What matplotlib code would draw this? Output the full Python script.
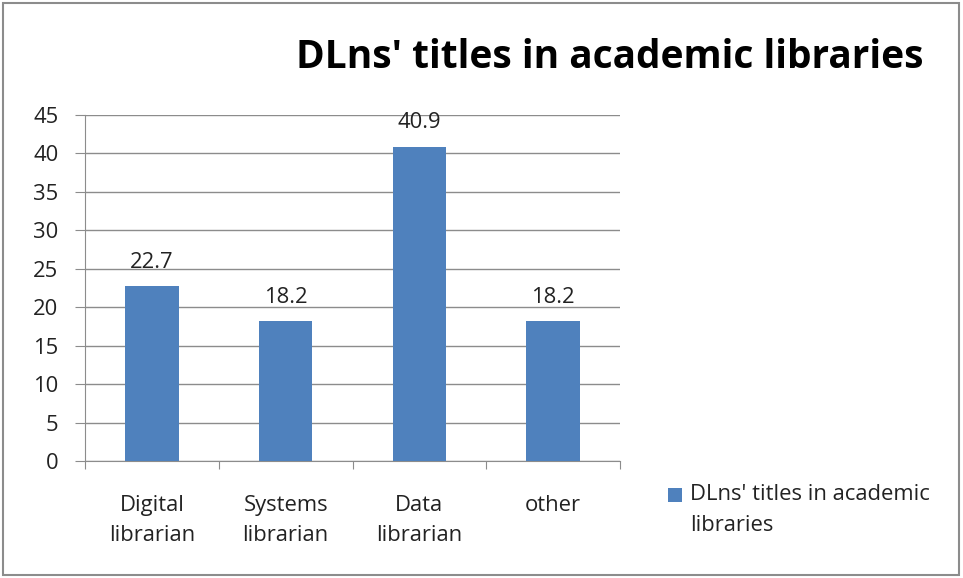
import matplotlib
matplotlib.use("Agg")
import matplotlib.pyplot as plt
from matplotlib.patches import Rectangle

categories = ["Digital\nlibrarian", "Systems\nlibrarian", "Data\nlibrarian", "other"]
values = [22.7, 18.2, 40.9, 18.2]
labels = ["22.7", "18.2", "40.9", "18.2"]
series_name = "DLns' titles in academic\nlibraries"
title = "DLns' titles in academic libraries"
yticks = [0, 5, 10, 15, 20, 25, 30, 35, 40, 45]

plt.rcParams['font.family'] = ['Open Sans', 'DejaVu Sans']
W, H = 963, 578
fs = 15.8
color = '#4F81BD'
fig = plt.figure(figsize=(W/100, H/100), dpi=100)
fig.patch.set_facecolor('white')
fig.add_artist(Rectangle((3/W, 3/H), (W-7)/W, (H-6)/H, transform=fig.transFigure,
                         fill=False, edgecolor='#8c8c8c', linewidth=1.5))

ax = fig.add_axes([85/W, 1-461/H, (620-85)/W, (461-115)/H])
x = list(range(len(categories)))
bars = ax.bar(x, values, width=0.40, color=color, label=series_name, zorder=3)
for xi, v, lab in zip(x, values, labels):
    ax.text(xi, v + 2.4, lab, ha='center', va='baseline', fontsize=fs, color='#222222')

ax.set_xlim(-0.5, len(categories) - 0.5)
ax.set_ylim(0, 45)
ax.set_yticks(yticks)
ax.set_yticklabels([str(t) for t in yticks], fontsize=fs, color='#222222')
ax.yaxis.grid(True, color='#8c8c8c', linewidth=1, zorder=0)
ax.tick_params(axis='y', length=7.2, color='#8c8c8c', pad=12)
ax.set_xticks([i - 0.5 for i in range(len(categories) + 1)], minor=False)
ax.set_xticklabels([''] * (len(categories) + 1))
ax.set_xticks(x, minor=True)
ax.set_xticklabels(categories, minor=True, fontsize=fs, color='#222222')
ax.tick_params(axis='x', which='major', length=5.8, color='#8c8c8c')
ax.tick_params(axis='x', which='minor', length=0, pad=24.5)
for t in ax.get_xticklabels(minor=True):
    t.set_linespacing(1.55)
for s in ['top', 'right']:
    ax.spines[s].set_visible(False)
for s in ['left', 'bottom']:
    ax.spines[s].set_color('#8c8c8c')

fig.text(610/W, 1-68/H, title, ha='center', va='baseline', fontsize=28, fontweight='bold')

# legend: swatch aligned with the first text line
fig.add_artist(Rectangle((668/W, 1-502/H), 14/W, 14/H, transform=fig.transFigure,
                         facecolor=color, edgecolor='none'))
lt = fig.text(690/W, 1-484/H, series_name, ha='left', va='top', fontsize=fs,
              color='#222222', linespacing=1.6)

fig.savefig("out.png", dpi=100, facecolor='white')
